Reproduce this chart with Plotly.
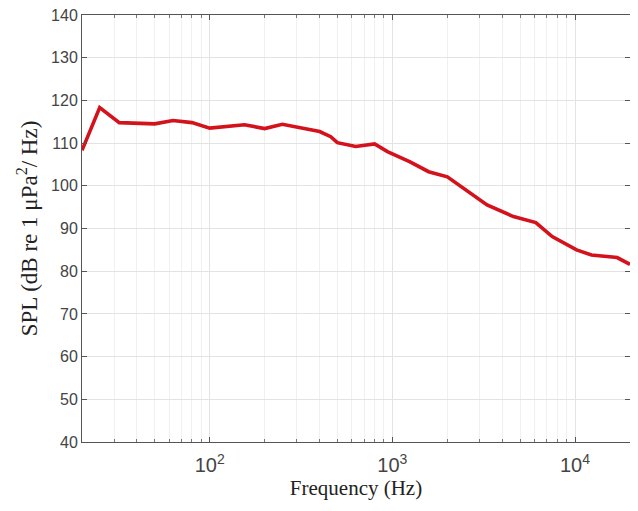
import plotly.graph_objects as go

# Frequency (Hz) and SPL (dB re 1 uPa^2/Hz)
freq = [20, 25, 32, 50, 63, 80, 100, 155, 200, 250, 400, 460, 500, 630, 800, 940,
        1250, 1580, 2000, 2450, 3300, 4600, 6100, 7500, 10200, 12300, 15200, 17000, 20000]
spl = [108.3, 118.3, 114.8, 114.5, 115.3, 114.8, 113.5, 114.3, 113.4, 114.4, 112.7, 111.5, 110.1,
       109.2, 109.8, 108.0, 105.6, 103.3, 102.1, 99.4, 95.5, 92.8, 91.4, 88.1, 85.0, 83.8, 83.4, 83.2, 81.6]

y_tickvals = list(range(40, 150, 10))

fig = go.Figure()
fig.add_trace(go.Scatter(
    x=freq, y=spl, mode="lines",
    line=dict(color="#d4121b", width=3.6),
    showlegend=False,
))

axis_common = dict(
    showline=True, linecolor="#555555", linewidth=1, mirror="allticks",
    ticks="inside", ticklen=5, tickcolor="#555555",
    gridcolor="#e3e3e3", gridwidth=1, zeroline=False, automargin=False,
    ticklabeloverflow="allow",
    tickfont=dict(family="Liberation Sans, Arial", size=16, color="#444444"),
)

# page body adds an 8px offset, so the figure is sized/margined to compensate
fig.update_layout(
    width=622, height=495,
    paper_bgcolor="white", plot_bgcolor="white",
    margin=dict(l=74, r=0, t=7, b=61),
    xaxis=dict(
        type="log", range=[1.30103, 4.30103],
        dtick=1, exponentformat="power", ticklabelstandoff=6,
        minor=dict(dtick="D1", ticks="inside", ticklen=3, tickcolor="#777777",
                   showgrid=True, gridcolor="#f0f0f0"),
        title=dict(text="Frequency (Hz)", standoff=0,
                   font=dict(family="Liberation Serif, Times New Roman", size=21, color="#222222")),
        **axis_common,
    ),
    yaxis=dict(
        range=[40, 140], tickvals=y_tickvals,
        title=dict(text="SPL (dB re 1 \u03bcPa<sup>2</sup>/ Hz)", standoff=7,
                   font=dict(family="Liberation Serif, Times New Roman", size=23, color="#222222")),
        **axis_common,
    ),
)

fig.write_html("out.html")
